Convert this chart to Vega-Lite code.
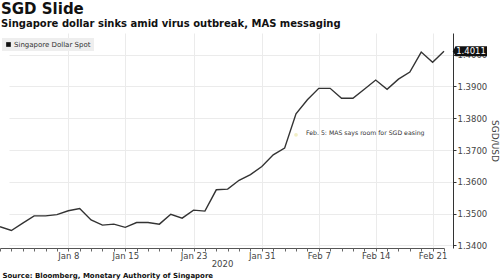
{
  "$schema": "https://vega.github.io/schema/vega-lite/v6.json",
  "width": 453,
  "height": 215,
  "autosize": {"type": "none"},
  "padding": {"left": 0, "top": 33, "right": 47, "bottom": 32},
  "background": "white",
  "config": {
    "view": {"stroke": null},
    "font": "DejaVu Sans",
    "axis": {"gridColor": "#ebebeb", "gridWidth": 1, "labelColor": "#444", "titleColor": "#444", "titleFontWeight": "normal"},
    "axisY": {"labelOverlap": false}
  },
  "title": {
    "text": "SGD Slide",
    "subtitle": "Singapore dollar sinks amid virus outbreak, MAS messaging",
    "anchor": "start",
    "frame": "group",
    "dx": 1,
    "offset": 4,
    "fontSize": 15,
    "fontWeight": "bold",
    "color": "#111",
    "subtitleFontSize": 10,
    "subtitleFontWeight": "bold",
    "subtitleColor": "#111",
    "subtitlePadding": 2
  },
  "data": {
    "values": [
      {"date": "Dec 30", "value": 1.3459},
      {"date": "Dec 31", "value": 1.3447},
      {"date": "Jan 2", "value": 1.3470},
      {"date": "Jan 3", "value": 1.3493},
      {"date": "Jan 6", "value": 1.3493},
      {"date": "Jan 7", "value": 1.3497},
      {"date": "Jan 8", "value": 1.3509},
      {"date": "Jan 9", "value": 1.3516},
      {"date": "Jan 10", "value": 1.3480},
      {"date": "Jan 13", "value": 1.3464},
      {"date": "Jan 14", "value": 1.3467},
      {"date": "Jan 15", "value": 1.3457},
      {"date": "Jan 16", "value": 1.3472},
      {"date": "Jan 17", "value": 1.3472},
      {"date": "Jan 20", "value": 1.3467},
      {"date": "Jan 21", "value": 1.3498},
      {"date": "Jan 22", "value": 1.3486},
      {"date": "Jan 23", "value": 1.3511},
      {"date": "Jan 24", "value": 1.3508},
      {"date": "Jan 27", "value": 1.3575},
      {"date": "Jan 28", "value": 1.3577},
      {"date": "Jan 29", "value": 1.3605},
      {"date": "Jan 30", "value": 1.3623},
      {"date": "Jan 31", "value": 1.3648},
      {"date": "Feb 3", "value": 1.3685},
      {"date": "Feb 4", "value": 1.3706},
      {"date": "Feb 5", "value": 1.3814},
      {"date": "Feb 6", "value": 1.3858},
      {"date": "Feb 7", "value": 1.3894},
      {"date": "Feb 10", "value": 1.3894},
      {"date": "Feb 11", "value": 1.3863},
      {"date": "Feb 12", "value": 1.3863},
      {"date": "Feb 13", "value": 1.3891},
      {"date": "Feb 14", "value": 1.3920},
      {"date": "Feb 17", "value": 1.3891},
      {"date": "Feb 18", "value": 1.3923},
      {"date": "Feb 19", "value": 1.3945},
      {"date": "Feb 20", "value": 1.4008},
      {"date": "Feb 21", "value": 1.3976},
      {"date": "Feb 24", "value": 1.4011}
    ]
  },
  "layer": [
    {
      "mark": {"type": "line", "strokeWidth": 1.4, "color": "#333"},
      "encoding": {
        "x": {
          "field": "date", "type": "ordinal", "sort": null,
          "scale": {"type": "point", "range": [0, 444], "padding": 0},
          "axis": {
            "orient": "bottom",
            "values": ["Jan 8", "Jan 15", "Jan 23", "Jan 31", "Feb 7", "Feb 14", "Feb 21"],
            "grid": true, "ticks": false, "labelAngle": 0, "labelFontSize": 8.5, "labelPadding": 3,
            "domainColor": "#555", "title": "2020", "titleFontSize": 8.5, "titlePadding": 0
          }
        },
        "y": {
          "field": "value", "type": "quantitative",
          "scale": {"domain": [1.3392, 1.4068], "zero": false, "nice": false},
          "axis": {
            "orient": "right", "values": [1.34, 1.35, 1.36, 1.37, 1.38, 1.39, 1.40], "format": ".4f",
            "labelOverlap": false, "labelFontSize": 8.5, "labelPadding": 1, "tickSize": 3, "tickColor": "#333", "domainColor": "#333",
            "title": "SGD/USD", "titleFontSize": 9, "titlePadding": 3, "titleAngle": 90
          }
        },
        "color": {
          "datum": "Singapore Dollar Spot",
          "scale": {"range": ["#333"]},
          "legend": {
            "orient": "none", "legendX": 2, "legendY": 5, "title": null,
            "fillColor": "#eeeeee", "padding": 3,
            "symbolType": "square", "symbolSize": 22, "symbolFillColor": "#111", "symbolStrokeWidth": 0,
            "labelFontSize": 7, "labelColor": "#333", "labelOffset": 2
          }
        }
      }
    },
    {
      "mark": {"type": "tick", "opacity": 0},
      "encoding": {
        "x": {
          "field": "date", "type": "ordinal", "sort": null,
          "axis": {
            "orient": "bottom",
            "grid": false, "labels": false, "domain": false, "ticks": true, "tickSize": 3, "tickColor": "#666",
            "title": "Source: Bloomberg, Monetary Authority of Singapore",
            "titleFontSize": 7, "titleFontWeight": "bold", "titleColor": "#111",
            "titleAnchor": "start", "titleAlign": "left", "titleX": 2, "titleY": 27, "titleBaseline": "middle"
          }
        },
        "y": {"field": "value", "type": "quantitative", "axis": null}
      }
    },
    {
      "data": {"values": [{"date": "Feb 5", "value": 1.3748}]},
      "mark": {"type": "circle", "size": 14, "color": "#f2efc6", "opacity": 1},
      "encoding": {
        "x": {"field": "date", "type": "ordinal", "sort": null, "axis": null},
        "y": {"field": "value", "type": "quantitative", "axis": null}
      }
    },
    {
      "data": {"values": [{"date": "Feb 5", "value": 1.3753, "note": "Feb. 5: MAS says room for SGD easing"}]},
      "mark": {"type": "text", "align": "left", "baseline": "middle", "dx": 10, "fontSize": 6.2, "color": "#333"},
      "encoding": {
        "x": {"field": "date", "type": "ordinal", "sort": null, "axis": null},
        "y": {"field": "value", "type": "quantitative", "axis": null},
        "text": {"field": "note"}
      }
    },
    {
      "transform": [{"filter": "datum.date == 'Feb 24'"}],
      "mark": {"type": "point", "shape": "M-1.7,0L-1.45,-0.5H1.7V0.5H-1.45Z", "size": 400, "filled": true, "color": "#111", "opacity": 1, "xOffset": 26},
      "encoding": {
        "x": {"field": "date", "type": "ordinal", "sort": null, "axis": null},
        "y": {"field": "value", "type": "quantitative", "axis": null}
      }
    },
    {
      "transform": [{"filter": "datum.date == 'Feb 24'"}],
      "mark": {"type": "text", "align": "center", "baseline": "middle", "dx": 27, "fontSize": 8.5, "color": "white"},
      "encoding": {
        "x": {"field": "date", "type": "ordinal", "sort": null, "axis": null},
        "y": {"field": "value", "type": "quantitative", "axis": null},
        "text": {"field": "value", "format": ".4f"}
      }
    }
  ],
  "resolve": {"axis": {"x": "independent", "y": "independent"}}
}
